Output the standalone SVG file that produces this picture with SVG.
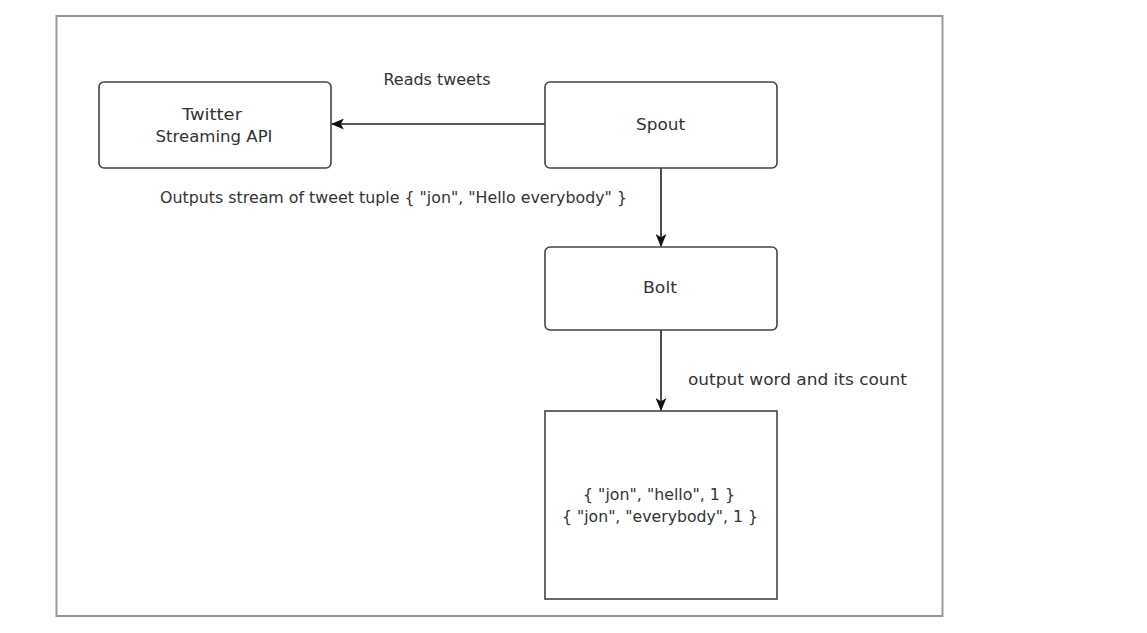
<svg xmlns="http://www.w3.org/2000/svg" width="1147" height="633" viewBox="0 0 1147 633">
<style>
.node{fill:#fff;stroke:#444;stroke-width:1.6}
.t{font-family:"DejaVu Sans",Verdana,sans-serif;font-size:15px;fill:#333;text-anchor:middle}
.edge{stroke:#222;stroke-width:1.6;fill:none}
</style>
<defs>
<marker id="ah" viewBox="0 0 12 10" refX="11" refY="5" markerWidth="13" markerHeight="11" markerUnits="userSpaceOnUse" orient="auto">
<path d="M0,0 L12,5 L0,10 L3,5 Z" fill="#111"/>
</marker>
</defs>
<rect x="0" y="0" width="1147" height="633" fill="#fff"/>
<rect id="frame" x="56.5" y="16" width="886" height="600" fill="none" stroke="#999" stroke-width="2"/>
<g id="connectors">
<line class="edge" x1="545" y1="124" x2="332" y2="124" marker-end="url(#ah)"/>
<line class="edge" x1="661" y1="168" x2="661" y2="246" marker-end="url(#ah)"/>
<line class="edge" x1="661" y1="330" x2="661" y2="410" marker-end="url(#ah)"/>
<text class="t" x="437" y="85" textLength="107" lengthAdjust="spacingAndGlyphs">Reads tweets</text>
<text class="t" x="393.5" y="203" textLength="467" lengthAdjust="spacingAndGlyphs">Outputs stream of tweet tuple { "jon", "Hello everybody" }</text>
<text class="t" x="797.5" y="385" textLength="219" lengthAdjust="spacingAndGlyphs">output word and its count</text>
</g>
<g id="twitter">
<rect class="node" x="99" y="82" width="232" height="86" rx="5"/>
<text class="t" x="212" y="120" textLength="60" lengthAdjust="spacingAndGlyphs">Twitter</text>
<text class="t" x="214" y="142" textLength="117" lengthAdjust="spacingAndGlyphs">Streaming API</text>
</g>
<g id="spout">
<rect class="node" x="545" y="82" width="232" height="86" rx="5"/>
<text class="t" x="660.5" y="130" textLength="49" lengthAdjust="spacingAndGlyphs">Spout</text>
</g>
<g id="bolt">
<rect class="node" x="545" y="247" width="232" height="83" rx="5"/>
<text class="t" x="660" y="293" textLength="34" lengthAdjust="spacingAndGlyphs">Bolt</text>
</g>
<g id="result">
<rect class="node" x="545" y="411" width="232" height="188"/>
<text class="t" x="659" y="500" textLength="152" lengthAdjust="spacingAndGlyphs">{ "jon", "hello", 1 }</text>
<text class="t" x="660" y="522" textLength="196" lengthAdjust="spacingAndGlyphs">{ "jon", "everybody", 1 }</text>
</g>
</svg>
